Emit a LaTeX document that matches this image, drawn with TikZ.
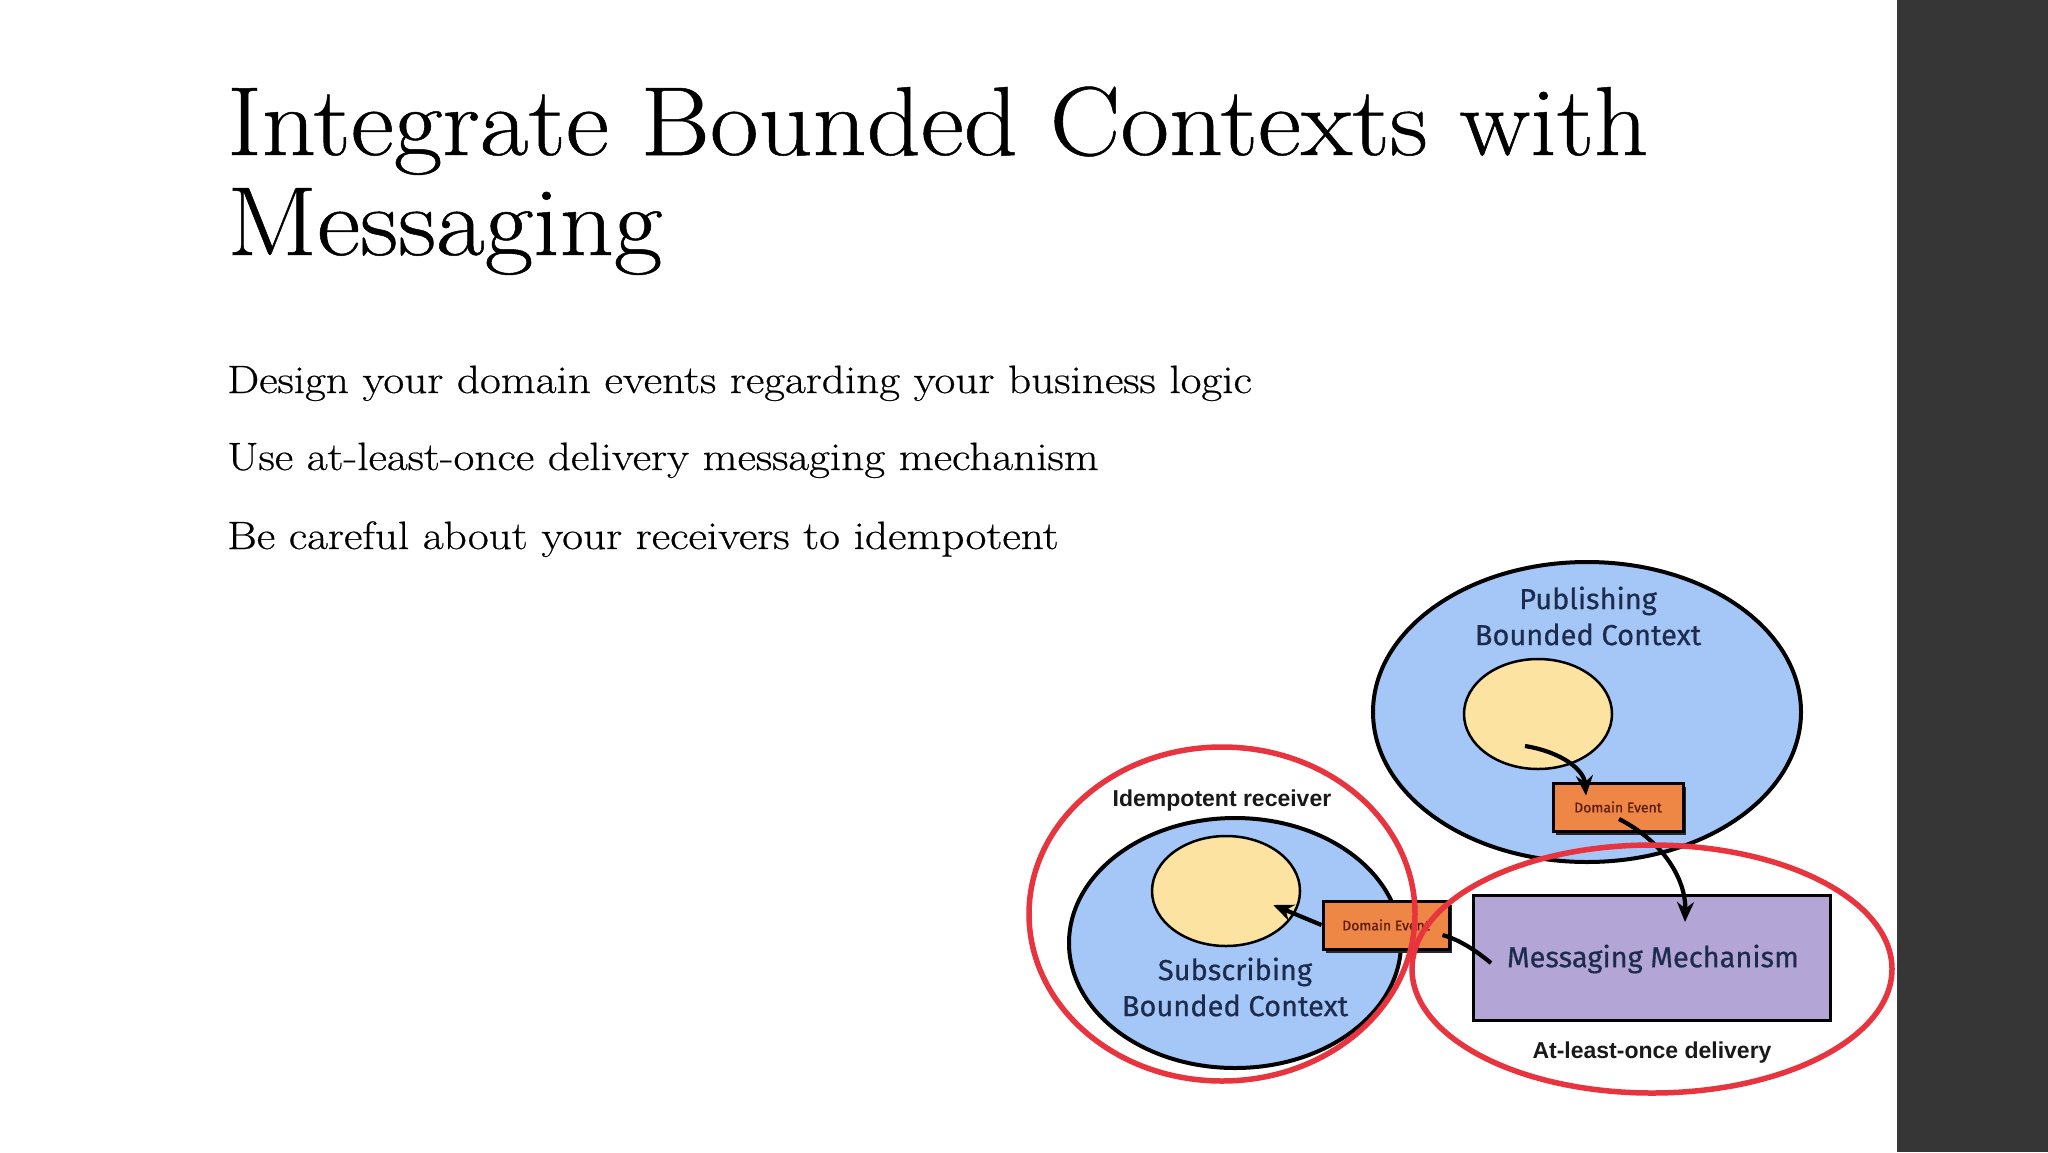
\documentclass[tikz,border=0pt]{standalone}
\usepackage{fontspec}
\newfontfamily\slidefont{Latin Modern Roman}[FakeBold=0.5]
\newfontfamily\hand{Fira Sans}[FakeBold=0.6]
\newfontfamily\lbl{Liberation Sans}
\usetikzlibrary{arrows.meta,shapes.geometric,calc,shadows}
\definecolor{darkbar}{HTML}{363636}
\definecolor{bcblue}{HTML}{A4C7F7}
\definecolor{core}{HTML}{FCE3A2}
\definecolor{evt}{HTML}{EE8646}
\definecolor{mech}{HTML}{B3A6D6}
\definecolor{ring}{HTML}{E8343E}
\definecolor{ink}{HTML}{1D2B4D}
\definecolor{evtink}{HTML}{5A1A08}
\tikzset{
  ctx/.style={ellipse, draw=black, line width=4pt, fill=bcblue, inner sep=0pt},
  corebox/.style={ellipse, draw=black, line width=2.5pt, fill=core, inner sep=0pt},
  evtbox/.style={rectangle, draw=black, line width=3pt, fill=evt, inner sep=0pt,
     minimum width=130, minimum height=48, font=\hand\fontsize{14}{14}\selectfont, text=evtink,
     drop shadow={shadow xshift=3pt, shadow yshift=-4pt, fill=black!85, opacity=1}},
  mechbox/.style={rectangle, draw=black, line width=3pt, fill=mech, inner sep=0pt},
  ringline/.style={ellipse, draw=ring, line width=5.5pt, inner sep=0pt},
  ctxtext/.style={font=\hand\fontsize{29}{36}\selectfont, text=ink, align=center},
  ringtext/.style={font=\lbl\bfseries\fontsize{23}{23}\selectfont, text=black!90},
  arr/.style={line width=4.2pt, -{Stealth[length=20pt,width=17pt]}},
  plain/.style={line width=4.2pt},
  title/.style={font=\slidefont\fontsize{98}{98}\selectfont, anchor=base west, inner sep=0pt, xscale=1.08},
  body/.style={font=\slidefont\fontsize{39.5}{39.5}\selectfont, anchor=base west, inner sep=0pt, xscale=1.145}
}
\begin{document}
\begin{tikzpicture}[x=1pt,y=-1pt]
\useasboundingbox (0,0) rectangle (2048,1152);
\fill[white] (0,0) rectangle (2048,1152);
\fill[darkbar] (1897,0) rectangle (2048,1152);

% title and bullets
\node[title] (t1) at (227,155) {Integrate Bounded Contexts with};
\node[title] (t2) at (227,255) {Messaging};
\node[body] (b1) at (227,393) {Design your domain events regarding your business logic};
\node[body] (b2) at (227,470) {Use at-least-once delivery messaging mechanism};
\node[body] (b3) at (227,549) {Be careful about your receivers to idempotent};

% publishing context
\node[ctx, minimum width=428, minimum height=300] (pub) at (1587,712) {};
\node[ctxtext] (pubt) at (1588,616) {Publishing\\Bounded Context};
\node[corebox, minimum width=148, minimum height=110] (pubcore) at (1538,714) {};
\node[evtbox] (pubevt) at (1618,807) {Domain Event};

% subscribing context
\node[ctx, minimum width=332, minimum height=250] (sub) at (1235,943) {};
\node[corebox, minimum width=148, minimum height=110] (subcore) at (1226,891) {};
\node[ctxtext] (subt) at (1235,987) {Subscribing\\Bounded Context};
\node[evtbox, minimum width=126] (subevt) at (1386,925) {Domain Event};

% messaging mechanism
\node[mechbox, minimum width=357, minimum height=125] (mech) at (1652,958) {};
\node[ctxtext] (mecht) at (1653,959) {Messaging Mechanism};

% connectors
\coordinate (s1) at (1525,746);
\draw[arr] (s1) .. controls (1562,752) and (1584,770) .. ($(pubevt.north)+(-32,14)$);
\coordinate (s2) at (1619,819);
\draw[arr] (s2) .. controls (1664,842) and (1686,880) .. ($(mech.north)+(33,28)$);
\coordinate (s3) at (1491,963);
\draw[plain] (s3) .. controls (1475,950) and (1460,940) .. ($(subevt.east)+(-8,10)$);
\draw[arr] (subevt.west) -- ($(subcore.east)+(-28,14)$);

% red rings
\node[ringline, minimum width=386, minimum height=334] (idem) at (1222,914) {};
\node[ringline, minimum width=480, minimum height=248] (alo) at (1652,969) {};
\node[ringtext] (idemt) at (1222,801) {Idempotent receiver};
\node[ringtext] (alot) at (1652,1053) {At-least-once delivery};
\end{tikzpicture}
\end{document}
